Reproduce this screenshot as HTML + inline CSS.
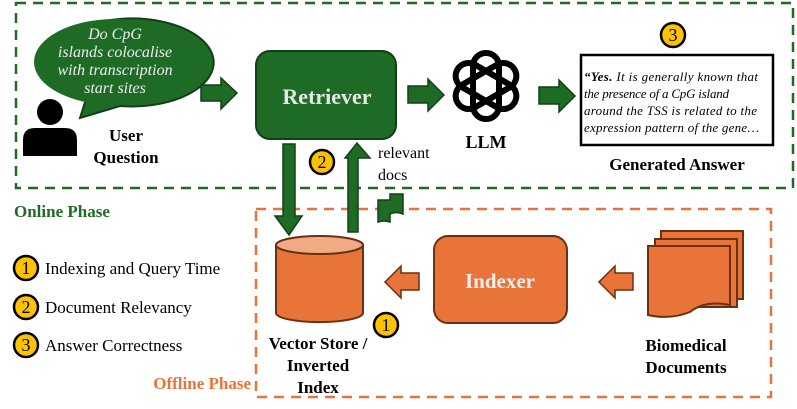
<!DOCTYPE html>
<html><head><meta charset="utf-8"><style>
html,body{margin:0;padding:0;background:#fff}
svg{display:block}
text{font-family:"Liberation Serif",serif}
</style></head><body>
<svg width="797" height="409" viewBox="0 0 797 409" xmlns="http://www.w3.org/2000/svg">
<rect x="16" y="3" width="777" height="185" fill="none" stroke="#1e6b25" stroke-width="2.5" stroke-dasharray="10,7"/>
<rect x="256" y="209" width="515" height="188" fill="none" stroke="#e8743a" stroke-width="2.5" stroke-dasharray="10,7"/>
<text x="14" y="217" font-size="17" font-weight="bold" fill="#1e6b25">Online Phase</text>
<text x="251" y="389" font-size="17" font-weight="bold" fill="#e8743a" text-anchor="end">Offline Phase</text>

<path d="M80,118 L86,99 A82,44 0 1 1 120,106 Z" fill="#1e6b25" stroke="#123f16" stroke-width="2"/>
<ellipse cx="115" cy="62" rx="81" ry="43" fill="#1e6b25"/>
<g font-size="16" font-style="italic" fill="#eee" text-anchor="middle">
<text x="115" y="39">Do CpG</text>
<text x="115" y="57">islands colocalise</text>
<text x="115" y="75">with transcription</text>
<text x="115" y="93">start sites</text>
</g>
<circle cx="50" cy="112" r="13" fill="#000"/>
<path d="M23,156 L23,140 Q23,128 35,128 L65,128 Q77,128 77,140 L77,156 Z" fill="#000"/>
<g font-size="17" font-weight="bold" text-anchor="middle"><text x="126" y="141">User</text><text x="126" y="163">Question</text></g>

<g fill="#1e6b25" stroke="#123f16" stroke-width="1.5">
<path d="M201,85 L221,85 L221,78 L237,93 L221,109 L221,101 L201,101 Z"/>
<path d="M408,86 L428,86 L428,79 L444,95 L428,111 L428,103 L408,103 Z"/>
<path d="M539,87 L559,87 L559,80 L575,96 L559,112 L559,104 L539,104 Z"/>
<path d="M283,144 L295,144 L295,216 L302,216 L289,235 L275,216 L283,216 Z"/>
<path d="M348,232 L358,232 L358,158 L370,158 L357,143 L345,158 L348,158 Z"/>
<path d="M378,200 L390,200 L390,194 L403,194 L403,214 Q396,211 390,214 L390,222 Q384,220 378,222 Z"/>
</g>
<rect x="256" y="51" width="140" height="88" rx="14" fill="#1e6b25" stroke="#123f16" stroke-width="2"/>
<text x="327" y="104" font-size="22" font-weight="bold" fill="#e8e8e8" text-anchor="middle">Retriever</text>
<text x="378" y="158" font-size="16">relevant</text>
<text x="378" y="180" font-size="16">docs</text>

<g transform="translate(486,86)" fill="none" stroke="#000" stroke-width="6">
<rect x="-13" y="-33" width="26" height="66" rx="13"/>
<rect x="-13" y="-33" width="26" height="66" rx="13" transform="rotate(60)"/>
<rect x="-13" y="-33" width="26" height="66" rx="13" transform="rotate(120)"/>
</g>
<text x="486" y="148" font-size="18" font-weight="bold" text-anchor="middle">LLM</text>

<rect x="581" y="55" width="192" height="90" fill="#fff" stroke="#000" stroke-width="2.5"/>
<g font-size="13" font-style="italic">
<text x="584" y="81" textLength="174" lengthAdjust="spacing"><tspan font-weight="bold">“Yes.</tspan> It is generally known that</text>
<text x="584" y="98" textLength="145" lengthAdjust="spacing">the presence of a CpG island</text>
<text x="584" y="115" textLength="173" lengthAdjust="spacing">around the TSS is related to the</text>
<text x="584" y="132" textLength="175" lengthAdjust="spacing">expression pattern of the gene…</text>
</g>
<text x="677" y="170" font-size="17" font-weight="bold" text-anchor="middle">Generated Answer</text>

<g stroke="#000" stroke-width="2.5" fill="#fcc200">
<circle cx="673" cy="35" r="12"/><circle cx="322" cy="162" r="12"/><circle cx="386" cy="325" r="12"/>
<circle cx="26" cy="268" r="12"/><circle cx="26" cy="307" r="12"/><circle cx="26" cy="345" r="12"/>
</g>
<g font-size="18" text-anchor="middle">
<text x="673" y="41">3</text><text x="322" y="168">2</text><text x="386" y="331">1</text>
<text x="26" y="274">1</text><text x="26" y="313">2</text><text x="26" y="351">3</text>
</g>
<g font-size="17"><text x="45" y="274">Indexing and Query Time</text><text x="45" y="313">Document Relevancy</text><text x="45" y="351">Answer Correctness</text></g>

<path d="M276,245 L276,313 A43,9 0 0 0 363,313 L363,245 Z" fill="#e8743a" stroke="#6b3010" stroke-width="2"/>
<ellipse cx="319.5" cy="245" rx="43.5" ry="9" fill="#f2aa85" stroke="#6b3010" stroke-width="2"/>
<g font-size="17" font-weight="bold" text-anchor="middle"><text x="318" y="349">Vector Store /</text><text x="318" y="371">Inverted</text><text x="318" y="393">Index</text></g>

<g fill="#e8743a" stroke="#6b3010" stroke-width="1.5">
<path d="M419,273 L401,273 L401,266 L385,282 L401,298 L401,290 L419,290 Z"/>
<path d="M633,273 L615,273 L615,266 L599,282 L615,298 L615,290 L633,290 Z"/>
</g>
<rect x="434" y="236" width="133" height="87" rx="14" fill="#e8743a" stroke="#6b3010" stroke-width="2"/>
<text x="500" y="288" font-size="21" font-weight="bold" fill="#eee" text-anchor="middle">Indexer</text>

<g fill="#e8743a" stroke="#6b3010" stroke-width="2">
<rect x="661" y="231" width="82" height="68"/>
<rect x="655" y="239" width="82" height="68"/>
<path d="M648,246 L730,246 L730,305 Q705,300 690,312 Q670,320 648,315 Z"/>
</g>
<g font-size="17" font-weight="bold" text-anchor="middle"><text x="686" y="351">Biomedical</text><text x="686" y="373">Documents</text></g>
</svg>
</body></html>
